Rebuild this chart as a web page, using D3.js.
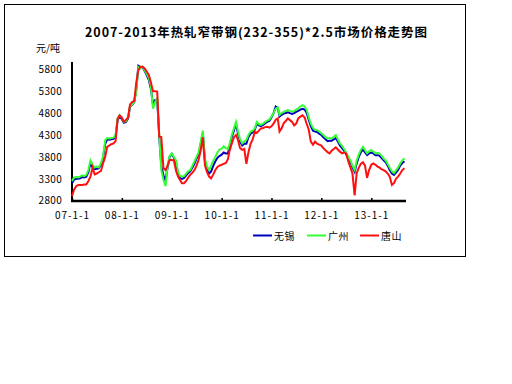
<!DOCTYPE html>
<html><head><meta charset="utf-8">
<script src="https://cdn.jsdelivr.net/npm/d3@7"></script>
<style>body{margin:0;background:#fff}svg{display:block}</style>
</head><body>
<svg id="c" width="512" height="384"></svg>
<script>
const title = "2007-2013年热轧窄带钢(232-355)*2.5市场价格走势图";
const unitLabel = "元/吨";
const seriesNames = ["无锡", "广州", "唐山"];
const seriesColors = ["#0000c0", "#33ff33", "#ff1010"];
const startDate = "2007-01-01"; // semi-monthly observations (1st & 16th)
const xTickDates = ["2007-01-01","2008-01-01","2009-01-01","2010-01-01","2011-01-01","2012-01-01","2013-01-01"];
const xTickLabels = ["07-1-1","08-1-1","09-1-1","10-1-1","11-1-1","12-1-1","13-1-1"];
const yTicks = [2800,3300,3800,4300,4800,5300,5800];

const wuxi = [3200,3280,3300,3300,3310,3340,3330,3350,3450,3650,3560,3520,3530,3540,3620,3760,4100,4200,4190,4200,4210,4260,4640,4720,
4660,4580,4600,4680,4950,4990,5050,5350,5880,5850,5850,5760,5670,5560,5350,5000,5100,5100,4250,3600,3380,3250,3560,3800,
3870,3780,3650,3400,3320,3300,3320,3380,3430,3470,3560,3650,3760,3850,4100,4350,3700,3520,3420,3470,3600,3700,3780,3820,
3850,3900,3880,3880,4050,4250,4400,4560,4320,4150,4060,4100,4100,4250,4330,4360,4420,4560,4520,4500,4530,4570,4600,4620,
4700,4800,4950,4920,4720,4760,4790,4800,4820,4800,4780,4800,4830,4850,4880,4900,4880,4800,4650,4500,4400,4380,4370,4330,
4300,4250,4200,4160,4170,4170,4200,4230,4150,4060,4000,3940,3860,3760,3680,3560,3460,3650,3800,3900,3970,3900,3840,3880,
3900,3880,3840,3840,3830,3780,3720,3680,3600,3500,3420,3390,3440,3500,3600,3660,3700];

const guangzhou = [3250,3330,3340,3330,3350,3380,3360,3390,3500,3720,3620,3560,3580,3560,3650,3800,4180,4230,4220,4230,4240,4300,4680,4750,
4700,4600,4620,4700,4960,5000,5060,5300,5850,5820,5860,5780,5700,5600,5400,4900,5050,5150,4300,3500,3280,3130,3600,3820,
3880,3800,3720,3450,3370,3350,3360,3420,3470,3500,3600,3700,3800,3900,4150,4400,3750,3580,3500,3600,3720,3800,3900,3970,
3990,4040,4000,3980,4100,4300,4450,4600,4380,4200,4110,4150,4190,4300,4380,4400,4450,4600,4550,4530,4560,4600,4630,4650,
4720,4800,4900,4930,4760,4800,4830,4850,4870,4850,4830,4850,4880,4910,4950,4980,4950,4870,4700,4560,4460,4420,4410,4380,
4340,4300,4250,4220,4230,4220,4260,4300,4200,4110,4050,3980,3900,3800,3720,3600,3500,3720,3850,3960,4030,3950,3880,3930,
3960,3920,3880,3890,3880,3830,3760,3720,3640,3550,3470,3430,3490,3560,3650,3720,3770];

const tangshan = [2900,3050,3130,3160,3160,3160,3170,3170,3250,3350,3560,3400,3420,3450,3480,3650,3800,4030,4060,4090,4110,4160,4670,4750,
4700,4600,4650,4700,5000,5050,5080,5500,5780,5860,5860,5820,5750,5680,5500,5300,5300,5290,4260,4250,3540,3500,3600,3730,
3730,3720,3480,3350,3280,3200,3200,3250,3330,3390,3440,3500,3600,3730,3950,4250,3600,3450,3350,3310,3400,3500,3570,3600,
3620,3640,3660,3750,3950,4100,4250,4300,4180,4000,3960,3980,3640,3900,4100,4200,4370,4350,4400,4450,4460,4480,4490,4470,
4500,4560,4650,4680,4380,4450,4570,4620,4680,4640,4600,4520,4560,4680,4720,4750,4700,4550,4420,4150,4080,4150,4100,4080,
4060,4000,3950,3910,3880,3940,3980,4020,3970,3920,3880,3900,3880,3700,3560,3420,2920,3430,3550,3640,3680,3600,3320,3500,
3620,3650,3620,3580,3560,3520,3500,3470,3420,3350,3160,3200,3300,3350,3420,3500,3540];

const parseDate = d3.timeParse("%Y-%m-%d");
const start = parseDate(startDate);
const dates = wuxi.map((_, i) => {
  const m = d3.timeMonth.offset(start, Math.floor(i / 2));
  return i % 2 ? d3.timeDay.offset(m, 15) : m;
});
const series = [wuxi, guangzhou, tangshan];

const svg = d3.select("#c");
const font = "'Noto Sans CJK SC', 'DejaVu Sans', sans-serif";

svg.append("rect").attr("x", 4.5).attr("y", 4.5).attr("width", 461).attr("height", 252)
  .attr("fill", "#fff").attr("stroke", "#000").attr("stroke-width", 1);

const x = d3.scaleTime().domain([parseDate("2007-01-01"), parseDate("2013-09-10")]).range([72, 405.7]);
const y = d3.scaleLinear().domain([2800, 5800]).range([200.7, 69.3]);

svg.append("text").attr("x", 85).attr("y", 37)
  .attr("font-family", "'Noto Sans CJK SC', sans-serif").attr("font-weight", "bold")
  .attr("font-size", 12.5).attr("textLength", 342).attr("lengthAdjust", "spacing").text(title);

svg.append("text").attr("x", 36).attr("y", 52).attr("font-family", font)
  .attr("font-size", 10).text(unitLabel);

// y axis
const ya = svg.append("g").attr("transform", "translate(72,0)")
  .call(d3.axisLeft(y).tickValues(yTicks).tickSize(0).tickPadding(10).tickFormat(d3.format("d")));
ya.select(".domain").attr("d", `M0,${62}V${201.5}`).attr("stroke", "#000").attr("stroke-width", 2);
ya.selectAll("text").attr("font-family", font).attr("font-size", 10).attr("fill", "#000")
  .attr("letter-spacing", 0.3);

// x axis
const xa = svg.append("g").attr("transform", "translate(0,201)")
  .call(d3.axisBottom(x).tickValues(xTickDates.map(parseDate)).tickSize(-3).tickPadding(11)
    .tickFormat((d, i) => xTickLabels[i]));
xa.select(".domain").attr("d", `M71,0H406`).attr("stroke", "#000").attr("stroke-width", 2.5);
xa.selectAll(".tick line").attr("stroke", "#000").attr("stroke-width", 1.5);
xa.selectAll("text").attr("font-family", font).attr("font-size", 10).attr("fill", "#000")
  .attr("letter-spacing", 1);

const line = d3.line().x((d, i) => x(dates[i])).y(d => y(d));
series.forEach((s, k) => {
  svg.append("path").datum(s).attr("d", line).attr("fill", "none")
    .attr("stroke", seriesColors[k]).attr("stroke-width", 2).attr("stroke-linejoin", "miter");
});

// legend
const legendX = [253, 307, 360];
seriesNames.forEach((n, k) => {
  svg.append("line").attr("x1", legendX[k]).attr("x2", legendX[k] + 19).attr("y1", 235.5).attr("y2", 235.5)
    .attr("stroke", seriesColors[k]).attr("stroke-width", 2);
  svg.append("text").attr("x", legendX[k] + 21).attr("y", 239.5).attr("font-family", font)
    .attr("font-size", 10).attr("letter-spacing", 0.5).text(n);
});
</script>
</body></html>
